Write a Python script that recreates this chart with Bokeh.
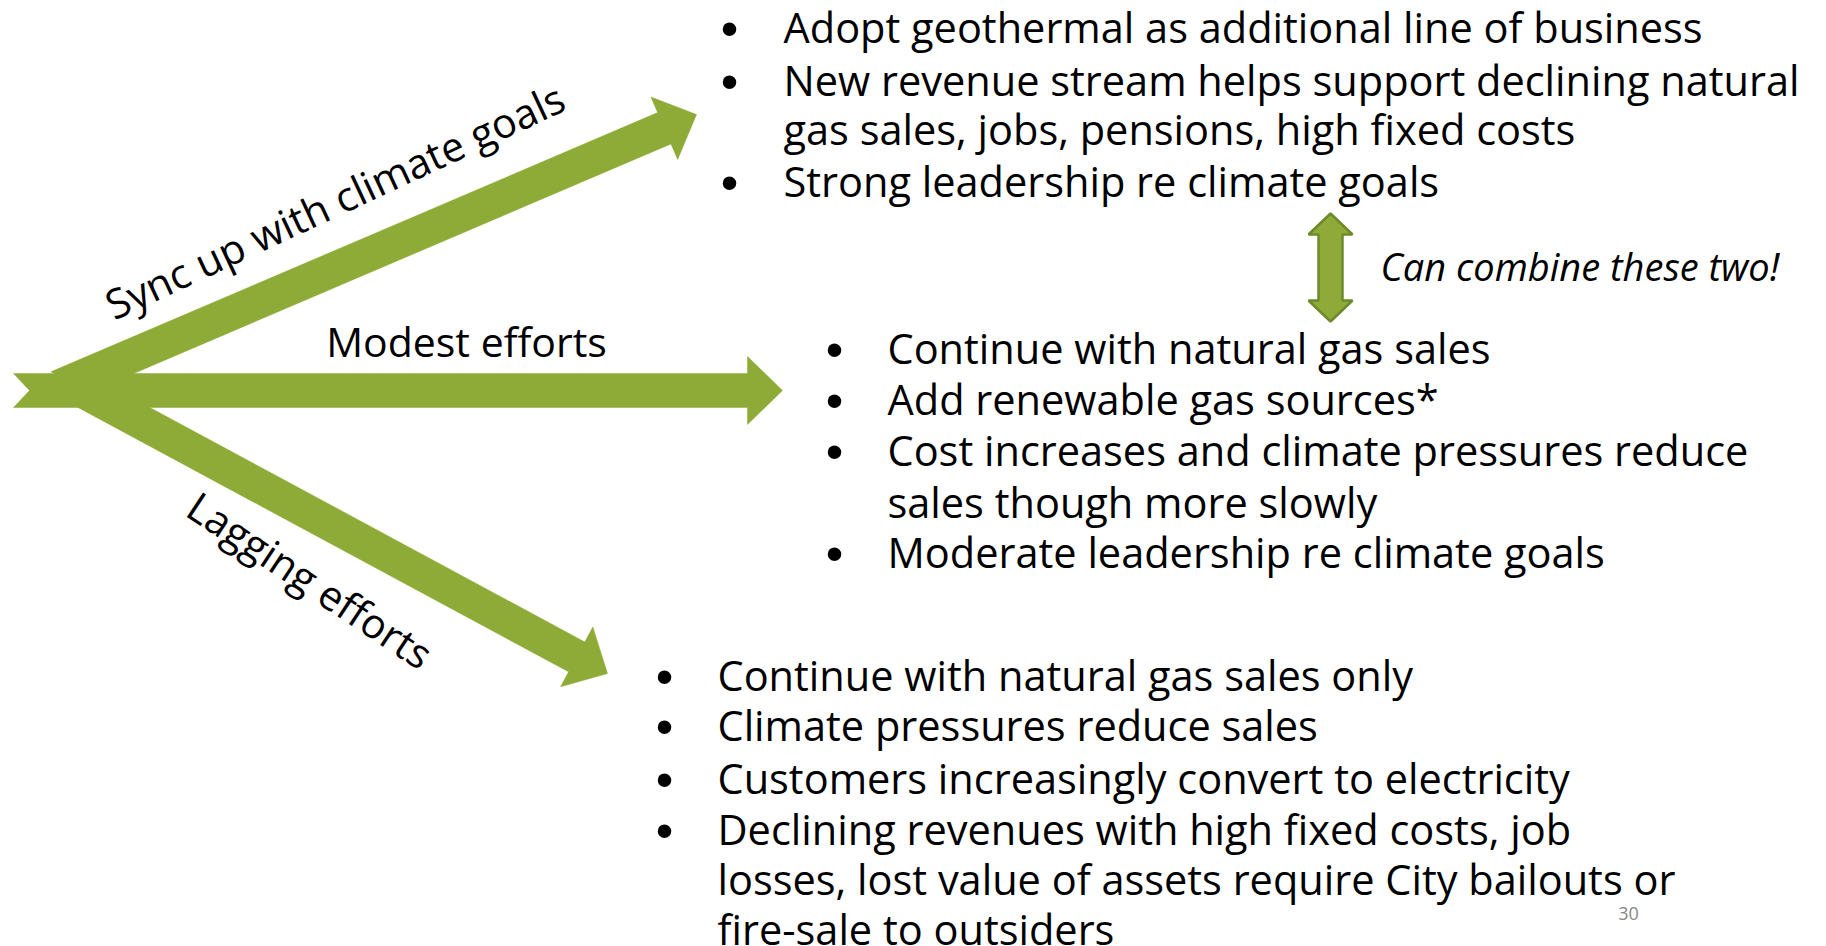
from bokeh.plotting import figure
from bokeh.models import Range1d
from bokeh.core.properties import value
from bokeh.embed import file_html
from bokeh.resources import INLINE
import math

# ---------------- data ----------------
arrow_names = ["Sync up with climate goals", "Modest efforts", "Lagging efforts"]
arrow_tail_x = [57, 13, 80]
arrow_tail_y = [387, 390, 389]
arrow_tip_x = [696, 782, 607]
arrow_tip_y = [114, 390, 673]

label_x = [334, 466, 310]
label_y = [200, 340, 579]
label_angle_deg = [25, 0, -33.5]

top_lines = ["Adopt geothermal as additional line of business",
             "New revenue stream helps support declining natural",
             "gas sales, jobs, pensions, high fixed costs",
             "Strong leadership re climate goals"]
top_bullet = [True, True, False, True]
top_y = [26, 79, 128, 180]

mid_lines = ["Continue with natural gas sales",
             "Add renewable gas sources*",
             "Cost increases and climate pressures reduce",
             "sales though more slowly",
             "Moderate leadership re climate goals"]
mid_bullet = [True, True, True, False, True]
mid_y = [347, 398, 449, 501, 551]

bot_lines = ["Continue with natural gas sales only",
             "Climate pressures reduce sales",
             "Customers increasingly convert to electricity",
             "Declining revenues with high fixed costs, job",
             "losses, lost value of assets require City bailouts or",
             "fire-sale to outsiders"]
bot_bullet = [True, True, True, True, False, False]
bot_y = [674, 724, 777, 828, 878, 928]

block_bullet_x = [729, 834, 664]
block_text_x = [783, 887, 717]

combine_note = "Can combine these two!"
page_number = "30"

# ---------------- figure ----------------
W, H = 1826, 946
p = figure(width=W, height=H, output_backend="svg", toolbar_location=None,
           x_range=Range1d(0, W), y_range=Range1d(-H, 0),
           min_border=0)
p.axis.visible = False
p.grid.visible = False
p.outline_line_color = None
p.background_fill_color = "white"
p.border_fill_color = "white"

GREEN = "#8DAB36"
FONT = value("Open Sans")

# notched arrows
SW, HW, HL, NOTCH = 17, 34, 35, 16
xs, ys = [], []
for tx, ty, px, py in zip(arrow_tail_x, arrow_tail_y, arrow_tip_x, arrow_tip_y):
    dx, dy = px - tx, py - ty
    L = math.hypot(dx, dy)
    ux, uy = dx / L, dy / L
    nx, ny = -uy, ux
    bx, by = px - HL * ux, py - HL * uy
    pts = [
        (tx + SW * nx, ty + SW * ny),
        (bx + SW * nx, by + SW * ny),
        (bx + HW * nx, by + HW * ny),
        (px, py),
        (bx - HW * nx, by - HW * ny),
        (bx - SW * nx, by - SW * ny),
        (tx - SW * nx, ty - SW * ny),
        (tx + NOTCH * ux, ty + NOTCH * uy),
    ]
    xs.append([q[0] for q in pts])
    ys.append([-q[1] for q in pts])
p.patches(xs, ys, fill_color=GREEN, line_color=GREEN, line_width=0.5)

# double arrow
dax, day0, day1 = 1330, 213, 321
dhw, dhl, dsw = 22, 21, 12
dpts = [(dax, day0), (dax + dhw, day0 + dhl), (dax + dsw, day0 + dhl),
        (dax + dsw, day1 - dhl), (dax + dhw, day1 - dhl), (dax, day1),
        (dax - dhw, day1 - dhl), (dax - dsw, day1 - dhl), (dax - dsw, day0 + dhl),
        (dax - dhw, day0 + dhl)]
p.patch([q[0] for q in dpts], [-q[1] for q in dpts], fill_color="#8FAA38",
        line_color="#6C8A2A", line_width=2.5)

# arrow labels
p.text(x=label_x, y=[-v for v in label_y], text=arrow_names,
       angle=[math.radians(a) for a in label_angle_deg],
       text_font=FONT, text_font_size="41px", text_color="#000000",
       text_align="center", text_baseline="middle")

# bullet blocks
for bi, (lines, bul, yy) in enumerate([(top_lines, top_bullet, top_y),
                                        (mid_lines, mid_bullet, mid_y),
                                        (bot_lines, bot_bullet, bot_y)]):
    p.text(x=[block_text_x[bi]] * len(lines), y=[-v for v in yy], text=lines,
           text_font=FONT, text_font_size="41.5px", text_color="#000000",
           text_align="left", text_baseline="middle")
    by_ = [-(v + 2) for v, b in zip(yy, bul) if b]
    p.text(x=[block_bullet_x[bi]] * len(by_), y=by_, text=["\u2022"] * len(by_),
           text_font=value("Liberation Sans"), text_font_size="50px",
           text_color="#000000", text_align="center", text_baseline="middle")

p.text(x=[1380], y=[-265], text=[combine_note], text_font=FONT,
       text_font_size="38px", text_font_style="italic", text_color="#000000",
       text_align="left", text_baseline="middle")
p.text(x=[1628], y=[-913], text=[page_number], text_font=FONT,
       text_font_size="18px", text_color="#888888",
       text_align="center", text_baseline="middle")

open("out.html", "w").write(file_html(p, INLINE))
